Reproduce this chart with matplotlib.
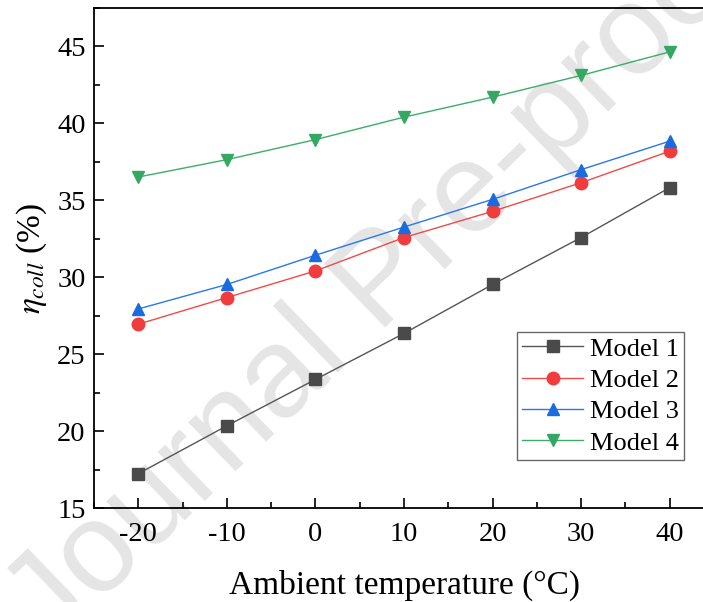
import matplotlib
matplotlib.use("Agg")
import matplotlib.pyplot as plt
from matplotlib.ticker import MultipleLocator

temperature = [-20, -10, 0, 10, 20, 30, 40]
model1 = [17.25, 20.36, 23.37, 26.36, 29.54, 32.59, 35.83]
model2 = [26.96, 28.69, 30.42, 32.59, 34.29, 36.15, 38.2]
model3 = [27.95, 29.54, 31.44, 33.27, 35.07, 37.0, 38.85]
model4 = [36.52, 37.65, 38.95, 40.41, 41.71, 43.12, 44.65]
labels = ["Model 1", "Model 2", "Model 3", "Model 4"]

plt.rcParams['font.family'] = ['Liberation Serif', 'DejaVu Serif']
plt.rcParams['mathtext.fontset'] = 'stix'
plt.rcParams['axes.unicode_minus'] = False

fig = plt.figure(figsize=(7.03, 6.02), dpi=100)
ax = fig.add_axes([94/703, 1 - 508.3/602, (714-94)/703, (508.3-8)/602])
ax.patch.set_alpha(0)

fig.text(0.545, 0.53, "Journal Pre-proof", fontsize=92, color='#e5e5e5',
         family='Liberation Sans', rotation=44, ha='center', va='center', zorder=-5)

series = [model1, model2, model3, model4]
colors = ['#4a4a4a', '#f03c3c', '#1a6ae0', '#34a862']
lcolors = ['#555555', '#f04a4a', '#2a78e8', '#3aae68']
markers = ['s', 'o', '^', 'v']
msizes = [8.5, 9, 9, 9]
for s, c, lc, m, ms, lab in zip(series, colors, lcolors, markers, msizes, labels):
    ax.plot(temperature, s, color=lc, lw=1.0, marker=m, markersize=ms,
            markerfacecolor=c, markeredgecolor=c, label=lab)

ax.set_xlim(-25, 45)
ax.set_ylim(15, 47.5)
ax.xaxis.set_major_locator(MultipleLocator(10))
ax.xaxis.set_minor_locator(MultipleLocator(5))
ax.yaxis.set_major_locator(MultipleLocator(5))
ax.yaxis.set_minor_locator(MultipleLocator(2.5))
ax.tick_params(which='both', direction='in', labelsize=20.5, width=1.2)
ax.tick_params(which='major', length=7)
ax.tick_params(which='minor', length=4)
ax.tick_params(axis='x', pad=10)
ax.tick_params(axis='y', pad=6)
for sp in ax.spines.values():
    sp.set_linewidth(1.3)

ax.set_xlabel("Ambient temperature (°C)", fontsize=24, labelpad=16)
ax.set_ylabel(r"$\eta_{coll}$ (%)", fontsize=24, labelpad=6)

leg = ax.legend(loc='lower right', bbox_to_anchor=((684-94)/620, (508.3-460)/500.3),
                fontsize=19, frameon=True, fancybox=False, edgecolor='#444444',
                handlelength=2.3, handletextpad=0.25, borderpad=0.2, labelspacing=0.3,
                borderaxespad=0)
leg.get_frame().set_linewidth(1.0)

fig.savefig("out.png", dpi=100)
